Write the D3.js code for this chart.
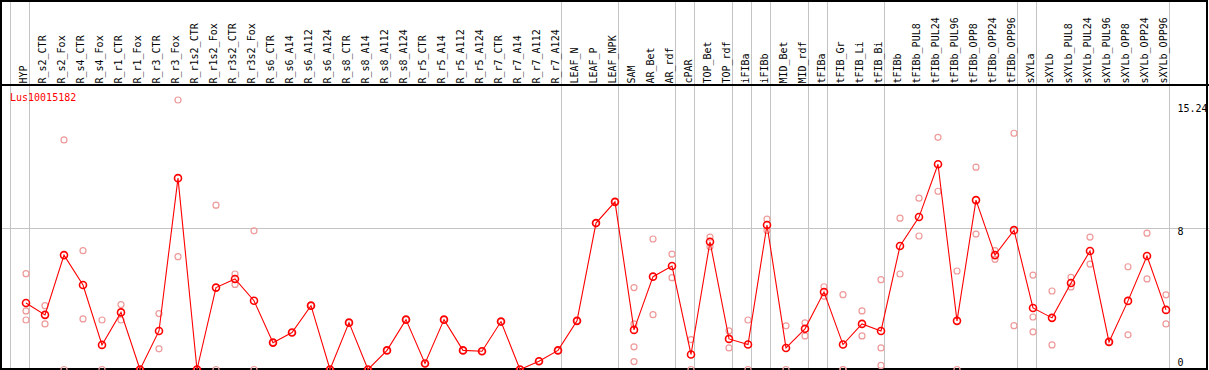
<!DOCTYPE html>
<html>
<head>
<meta charset="utf-8">
<script src="https://cdn.jsdelivr.net/npm/d3@7"></script>
<style>
  body { margin: 0; background: #fff; }
  svg { display: block; }
  text { font-family: "DejaVu Sans Mono", monospace; font-size: 10px; }
</style>
</head>
<body>
<div id="viz"></div>
<script>
// sample columns, left to right
const columns = [
  "HYP", "R_s2_CTR", "R_s2_Fox", "R_s4_CTR", "R_s4_Fox", "R_r1_CTR", "R_r1_Fox",
  "R_r3_CTR", "R_r3_Fox", "R_r1s2_CTR", "R_r1s2_Fox", "R_r3s2_CTR", "R_r3s2_Fox",
  "R_s6_CTR", "R_s6_A14", "R_s6_A112", "R_s6_A124", "R_s8_CTR", "R_s8_A14",
  "R_s8_A112", "R_s8_A124", "R_r5_CTR", "R_r5_A14", "R_r5_A112", "R_r5_A124",
  "R_r7_CTR", "R_r7_A14", "R_r7_A112", "R_r7_A124", "LEAF_N", "LEAF_P", "LEAF_NPK",
  "SAM", "AR_Bet", "AR_rdf", "cPAR", "TOP_Bet", "TOP_rdf", "iFIBa", "iFIBb",
  "MID_Bet", "MID_rdf", "tFIBa", "tFIB_Gr", "tFIB_Li", "tFIB_Bi", "tFIBb",
  "tFIBb_PUL8", "tFIBb_PUL24", "tFIBb_PUL96", "tFIBb_OPP8", "tFIBb_OPP24", "tFIBb_OPP96",
  "sXYLa", "sXYLb", "sXYLb_PUL8", "sXYLb_PUL24", "sXYLb_PUL96", "sXYLb_OPP8",
  "sXYLb_OPP24", "sXYLb_OPP96"
];

// mean expression per column
const means = [
  3.76, 3.09, 6.47, 4.78, 1.39, 3.23, 0, 2.18, 10.82, 0, 4.63, 5.12, 3.89,
  1.52, 2.09, 3.61, 0, 2.65, 0, 1.08, 2.82, 0.34, 2.82, 1.08, 1.03,
  2.71, 0, 0.47, 1.08, 2.75, 8.28, 9.48,
  2.24, 5.25, 5.85, 0.85, 7.22, 1.73, 1.41, 8.17,
  1.22, 2.30, 4.38, 1.41, 2.58, 2.18, 6.98,
  8.62, 11.61, 2.75, 9.58, 6.47, 7.88,
  3.48, 2.92, 4.89, 6.70, 1.56, 3.88, 6.42, 3.37
];

// individual replicates per column
const replicates = [
  [5.42, 3.31, 2.80], [3.61, 2.58], [12.98, 0], [6.72, 2.86], [2.80, 0], [3.67, 2.80], [0, 0],
  [3.16, 1.17], [15.24, 6.38], [0, 0], [9.29, 0], [5.40, 4.81], [7.84, 0],
  [1.52], [2.09], [3.61], [0, 0], [2.65], [0, 0], [1.08], [2.82], [0.34], [2.82], [1.08], [1.03],
  [2.71], [0, 0], [0.47], [1.08], [2.75], [8.28], [9.48],
  [4.63, 2.58, 1.28, 0.45], [7.38, 3.10], [6.53, 5.19], [1.69, 0], [7.49, 6.94], [2.18, 1.22],
  [2.80, 0], [8.50, 7.86],
  [2.47, 0], [2.64, 1.90], [4.68, 4.14], [4.23, 0, 0], [3.31, 1.90], [5.08, 1.22, 0.23], [8.56, 5.40],
  [9.69, 7.55], [13.13, 10.08], [5.57, 0], [11.44, 7.66], [6.72, 6.23], [13.36, 2.48],
  [5.34, 2.97, 2.13], [4.44, 1.39], [5.21, 4.67], [7.49, 5.96], [1.56], [5.81, 1.96],
  [7.71, 5.12], [4.22, 2.58]
];

// separator lines after these columns
const groupEnds = [
  "HYP", "R_r7_A124", "LEAF_NPK", "AR_rdf", "cPAR", "TOP_rdf", "iFIBa", "iFIBb",
  "MID_rdf", "tFIBa", "tFIB_Bi", "tFIBb_OPP96", "sXYLa", "sXYLb_OPP96"
];

const yTicks = [0, 8, 15.24];
const geneName = "Lus10015182";

function drawChart() {
  const width = 1209;
  const height = 370;
  const headerBottom = 85;
  const colStep = 19;
  const left = 11.3;

  const svg = d3
    .select("#viz")
    .append("svg")
    .attr("width", width)
    .attr("height", height);

  const x = d3
    .scaleBand()
    .domain(columns)
    .range([left, left + colStep * columns.length]);

  // points sit towards the right side of each band
  const cx = (name) => x(name) + 14.7;

  const y = d3.scaleLinear().domain([0, 15.24]).range([369.5, 100]);

  // group separators
  const sepX = [x(columns[0])].concat(groupEnds.map((c) => x(c) + x.bandwidth()));
  svg
    .selectAll("line.sep")
    .data(sepX)
    .enter()
    .append("line")
    .classed("sep", true)
    .attr("x1", (d) => Math.round(d) - 0.5)
    .attr("x2", (d) => Math.round(d) - 0.5)
    .attr("y1", 0)
    .attr("y2", height)
    .attr("stroke", "#c4c4c4")
    .attr("stroke-width", 1);

  // horizontal guide at 8
  svg
    .append("line")
    .attr("x1", 0)
    .attr("x2", width)
    .attr("y1", Math.round(y(8)) + 0.5)
    .attr("y2", Math.round(y(8)) + 0.5)
    .attr("stroke", "#c4c4c4");

  // frame and header divider
  svg
    .append("rect")
    .attr("x", 1)
    .attr("y", 1)
    .attr("width", 1206)
    .attr("height", 368)
    .attr("fill", "none")
    .attr("stroke", "black")
    .attr("stroke-width", 2);

  svg
    .append("line")
    .attr("x1", 0)
    .attr("x2", width)
    .attr("y1", headerBottom)
    .attr("y2", headerBottom)
    .attr("stroke", "black")
    .attr("stroke-width", 2);

  // column labels
  svg
    .selectAll("text.col")
    .data(columns)
    .enter()
    .append("text")
    .classed("col", true)
    .text((d) => d)
    .attr("transform", (d) => `translate(${cx(d) + 0.5},83.5) rotate(-90)`)
    .attr("fill", "black");

  // gene label
  svg
    .append("text")
    .attr("x", 10)
    .attr("y", 101)
    .attr("fill", "red")
    .text(geneName);

  // right tick labels
  svg
    .selectAll("text.tick")
    .data(yTicks)
    .enter()
    .append("text")
    .classed("tick", true)
    .attr("x", 1177.5)
    .attr("y", (d, i) => y(d) + (d === 0 ? -4 : i === yTicks.length - 1 ? 11.5 : 7.3))
    .attr("fill", "black")
    .text((d) => d);

  // replicates
  const repData = [];
  columns.forEach((c, i) => replicates[i].forEach((v) => repData.push({ c, v })));
  svg
    .selectAll("circle.rep")
    .data(repData)
    .enter()
    .append("circle")
    .classed("rep", true)
    .attr("cx", (d) => cx(d.c))
    .attr("cy", (d) => y(d.v))
    .attr("r", 3)
    .attr("fill", "none")
    .attr("stroke", "#ee9a9a")
    .attr("stroke-width", 1.2);

  // mean line
  const line = d3
    .line()
    .x((d, i) => cx(columns[i]))
    .y((d) => y(d));

  svg
    .append("path")
    .datum(means)
    .attr("d", line)
    .attr("fill", "none")
    .attr("stroke", "red")
    .attr("stroke-width", 1.1);

  svg
    .selectAll("circle.mean")
    .data(means)
    .enter()
    .append("circle")
    .classed("mean", true)
    .attr("cx", (d, i) => cx(columns[i]))
    .attr("cy", (d) => y(d))
    .attr("r", 3.5)
    .attr("fill", "none")
    .attr("stroke", "red")
    .attr("stroke-width", 1.6);
}

drawChart();
</script>
</body>
</html>
